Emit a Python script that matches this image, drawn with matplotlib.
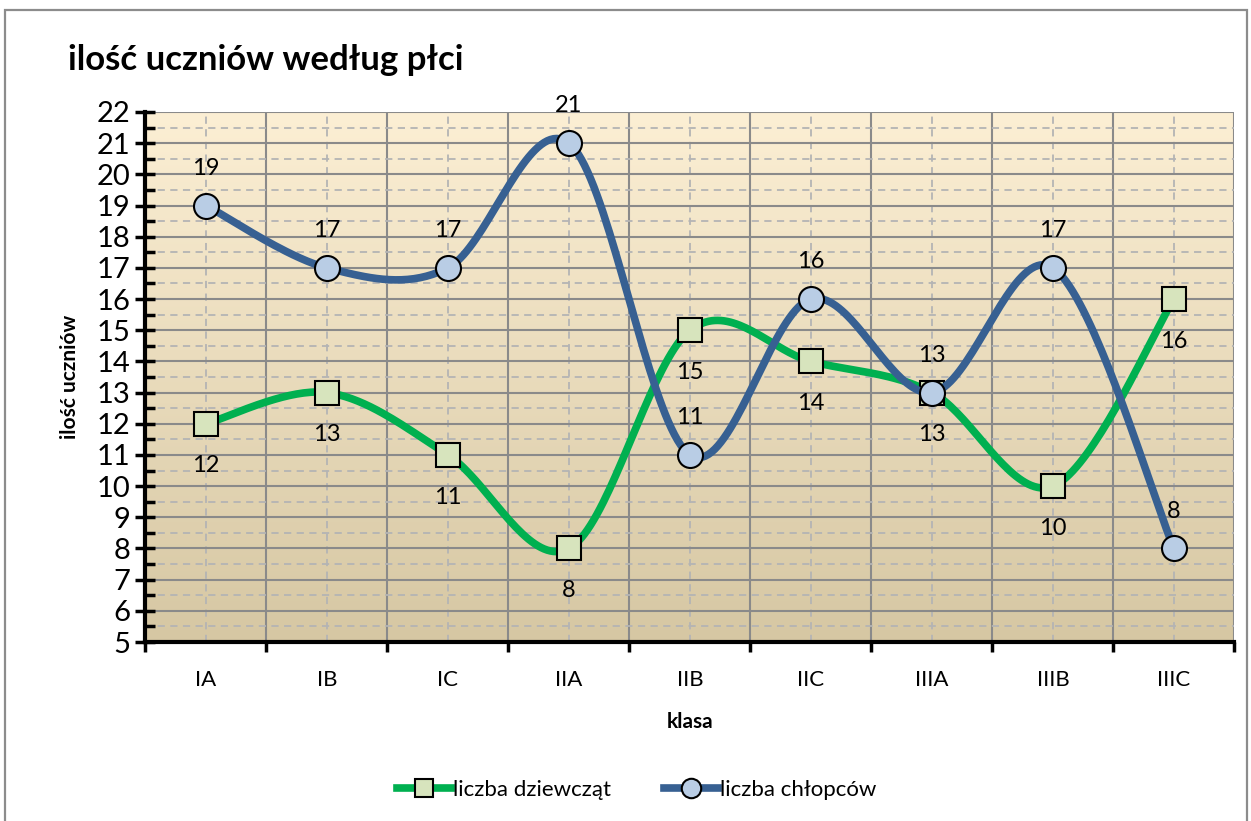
import numpy as np
import matplotlib
matplotlib.use('Agg')
import matplotlib.pyplot as plt
from matplotlib.lines import Line2D
from matplotlib.patches import Rectangle

plt.rcParams['font.family'] = ['Lato', 'DejaVu Sans']

classes = ['IA', 'IB', 'IC', 'IIA', 'IIB', 'IIC', 'IIIA', 'IIIB', 'IIIC']
girls = [12, 13, 11, 8, 15, 14, 13, 10, 16]
boys = [19, 17, 17, 21, 11, 16, 13, 17, 8]


def smooth(xs, ys, n=40):
    # excel-like smoothed line (catmull-rom as cubic bezier)
    p = np.column_stack([xs, ys]).astype(float)
    p = np.vstack([p[0], p, p[-1]])
    out = []
    for i in range(1, len(p) - 2):
        p0, p1, p2, p3 = p[i - 1], p[i], p[i + 1], p[i + 2]
        c1 = p1 + (p2 - p0) / 6
        c2 = p2 - (p3 - p1) / 6
        t = np.linspace(0, 1, n)[:, None]
        seg = ((1 - t) ** 3) * p1 + 3 * ((1 - t) ** 2) * t * c1 + 3 * (1 - t) * t ** 2 * c2 + t ** 3 * p2
        out.append(seg if i == 1 else seg[1:])
    out = np.vstack(out)
    return out[:, 0], out[:, 1]


fig = plt.figure(figsize=(12.51, 8.21), dpi=100)
ax = fig.add_axes([0.1163, 0.218, 0.8705, 0.6456])

# outer chart border
fig.patches.append(Rectangle((0.004, -0.01), 0.993, 0.998, transform=fig.transFigure,
                             fill=False, edgecolor='#8c8c8c', lw=1.6))

x = np.arange(len(classes))
ax.set_xlim(-0.5, len(classes) - 0.5)
ax.set_ylim(5, 22)

# gradient background
grad = np.linspace(0, 1, 256)[:, None]
top = np.array([252, 239, 212]) / 255
bot = np.array([214, 199, 163]) / 255
img = top[None, None, :] * (1 - grad[:, :, None]) + bot[None, None, :] * grad[:, :, None]
ax.imshow(img, extent=[-0.5, len(classes) - 0.5, 5, 22], aspect='auto', zorder=0,
          origin='upper', interpolation='bilinear')

# grid
for k in range(len(classes) + 1):
    ax.axvline(k - 0.5, color='#8a8a8a', lw=1.5, zorder=1)
for k in x:
    ax.axvline(k, color='#b4b4b4', lw=1.3, ls=(0, (4, 3)), zorder=1)
for v in range(5, 23):
    ax.axhline(v, color='#8a8a8a', lw=1.5, zorder=1)
for v in np.arange(5.5, 22, 1):
    ax.axhline(v, color='#b4b4b4', lw=1.3, ls=(0, (4, 3)), zorder=1)

green = '#00B050'
blue = '#376092'

gx, gy = smooth(x, girls)
ax.plot(gx, gy, color=green, lw=5.5, solid_capstyle='round', zorder=3)
ax.plot(x, girls, ls='none', marker='s', ms=17, mfc='#D7E4BD', mec='black', mew=1.5, zorder=4)

bx, by = smooth(x, boys)
ax.plot(bx, by, color=blue, lw=5.5, solid_capstyle='round', zorder=5)
ax.plot(x, boys, ls='none', marker='o', ms=18, mfc='#B9CDE5', mec='black', mew=1.5, zorder=6)

for xi, v in zip(x, girls):
    ax.text(xi, v - 1.35, str(v), ha='center', va='center', fontsize=17, zorder=7)
for xi, v in zip(x, boys):
    ax.text(xi, v + 1.2, str(v), ha='center', va='center', fontsize=17, zorder=7)

ax.set_xticks(np.arange(-0.5, len(classes), 1))
ax.set_xticklabels([])
ax.set_xticks(x, minor=True)
ax.set_xticklabels(classes, minor=True, fontsize=16)
ax.tick_params(axis='x', which='major', direction='out', length=7, width=2.5, color='black')
ax.tick_params(axis='x', which='minor', length=0, pad=20)

ax.set_yticks(range(5, 23))
ax.set_yticklabels([str(v) for v in range(5, 23)], fontsize=21)
ax.set_yticks(np.arange(5.5, 22, 1), minor=True)
ax.tick_params(axis='y', which='major', direction='inout', length=14, width=2.5, pad=4)
ax.tick_params(axis='y', which='minor', direction='in', length=7, width=2.5)

for s in ['top', 'right']:
    ax.spines[s].set_visible(False)
for s in ['left', 'bottom']:
    ax.spines[s].set_linewidth(3)
    ax.spines[s].set_zorder(8)

ax.set_xlabel('klasa', fontsize=15, fontweight='bold', labelpad=16)
ax.set_ylabel('ilość uczniów', fontsize=15, fontweight='bold', labelpad=12)

fig.text(0.054, 0.927, 'ilość uczniów według płci', fontsize=25, fontweight='bold', va='center')

handles = [
    Line2D([], [], color=green, lw=5.5, marker='s', ms=13, mfc='#D7E4BD', mec='black', mew=1.5),
    Line2D([], [], color=blue, lw=5.5, marker='o', ms=14, mfc='#B9CDE5', mec='black', mew=1.5),
]
fig.legend(handles, ['liczba dziewcząt', 'liczba chłopców'], loc='center',
           bbox_to_anchor=(0.509, 0.038), ncol=2, frameon=False, fontsize=16,
           handlelength=2.4, handletextpad=0.1, columnspacing=2.4)

fig.savefig('out.png', dpi=100)
